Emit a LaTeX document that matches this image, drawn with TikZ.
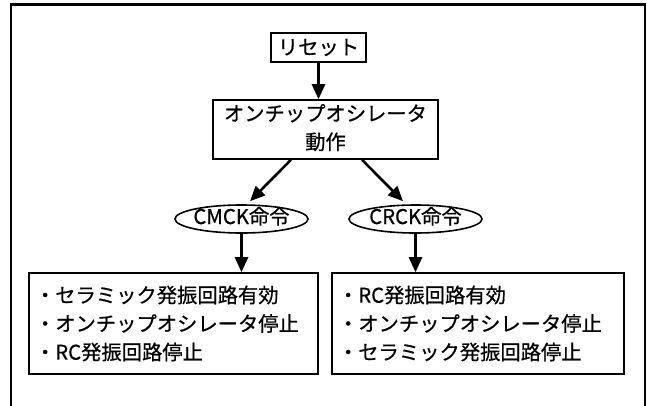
\documentclass[tikz,border=0pt]{standalone}
\usepackage{fontspec}
\setmainfont[FakeBold=0.6,AutoFakeBold=0.6]{Noto Sans CJK JP}
\usetikzlibrary{shapes.geometric,arrows.meta,calc}
\begin{document}
\begin{tikzpicture}[x=1pt,y=-1pt,
  every node/.style={font=\fontsize{20.3}{28.5}\selectfont\bfseries},
  box/.style={draw=black, line width=1.6pt, inner sep=0pt, align=center},
  listbox/.style={draw=black, line width=1.6pt, inner xsep=6pt, inner ysep=0pt, align=left, minimum height=101pt},
  cmd/.style={draw=black, line width=1.6pt, ellipse, inner sep=0pt, minimum width=133pt, minimum height=28pt},
  arr/.style={line width=2.6pt, -{Triangle[length=15pt,width=13pt]}},
  frame/.style={line width=2.4pt, line cap=rect}]
\useasboundingbox (0,0) rectangle (647,405);
\draw[frame] (11,406) -- (11,4.5) -- (645,4.5) -- (645,406);
\node[box, minimum width=95pt, minimum height=29pt] (reset) at (318.5,47.5) {リセット};
\node[box, minimum width=225pt, minimum height=59pt] (osc) at (325.5,129.5) {\raisebox{-3pt}{\begin{tabular}{@{}c@{}}オンチップオシレータ\\動作\end{tabular}}};
\node[cmd] (cmck) at (241.5,219) {\smash{\makebox[0pt]{\raisebox{-5pt}{CMCK命令}}}};
\node[cmd] (crck) at (415.5,219) {\smash{\makebox[0pt]{\raisebox{-5pt}{CRCK命令}}}};
\node[listbox, text width=277pt] (lbox) at (173.5,323.5) {・セラミック発振回路有効\\・オンチップオシレータ停止\\・RC発振回路停止};
\node[listbox, text width=280pt] (rbox) at (478,323.5) {・RC発振回路有効\\・オンチップオシレータ停止\\・セラミック発振回路停止};
\draw[arr] (reset.south) -- (reset.south |- osc.north);
\draw[arr] ($(osc.south)+(-34.5,0)$) -- ($(cmck.north)+(8.5,-3)$);
\draw[arr] ($(osc.south)+(36.5,0)$) -- ($(crck.north)+(-12.5,-3)$);
\draw[arr] (cmck.south) -- (cmck.south |- lbox.north);
\draw[arr] (crck.south) -- (crck.south |- rbox.north);
\end{tikzpicture}
\end{document}
